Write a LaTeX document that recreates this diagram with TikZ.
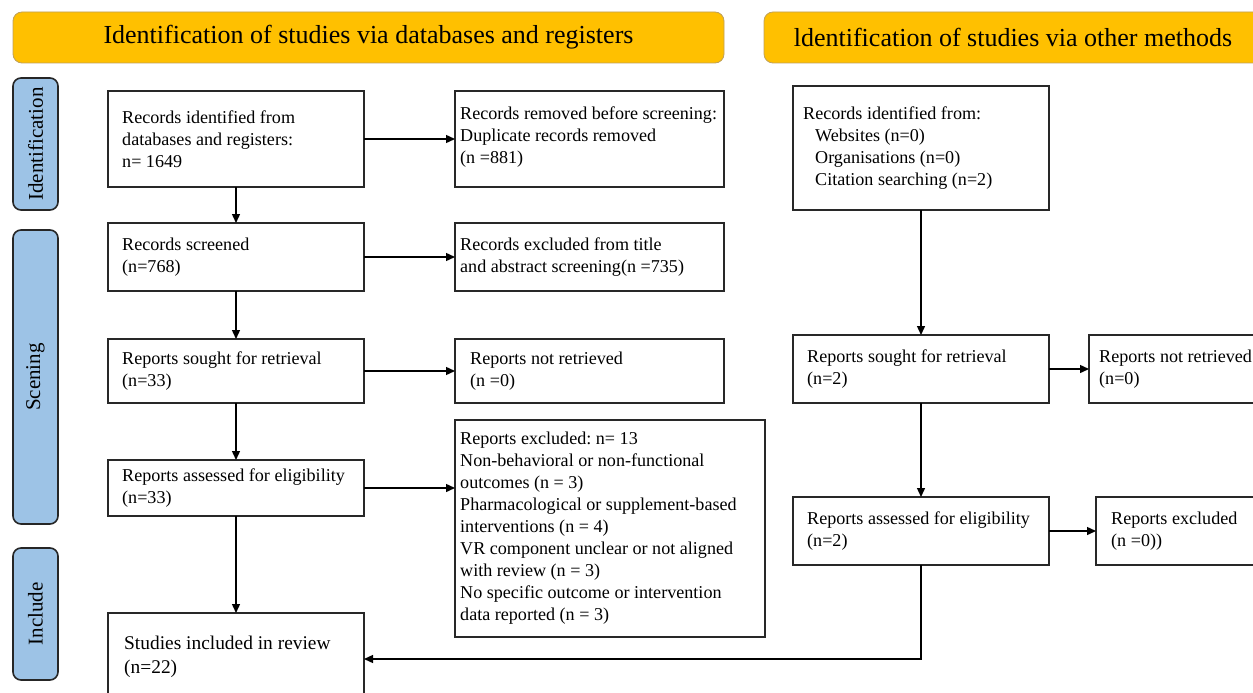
\documentclass[tikz,border=0pt]{standalone}
\usepackage{fontspec}
\setmainfont{Liberation Serif}
\usetikzlibrary{arrows.meta}
\definecolor{hdr}{RGB}{255,192,0}
\definecolor{hdrline}{RGB}{190,160,90}
\definecolor{side}{RGB}{157,195,230}
\definecolor{boxline}{RGB}{40,40,40}
\frenchspacing
\begin{document}
\begin{tikzpicture}[x=1pt,y=-1pt,
  frame/.style={draw=boxline, line width=1.3pt, fill=white, anchor=north west,
    inner sep=0pt, outer sep=0pt},
  txt/.style={anchor=west, align=left, inner sep=0pt,
    font=\fontsize{18.1}{22}\selectfont},
  hdrbox/.style={draw=hdrline, line width=0.8pt, fill=hdr, rounded corners=9pt,
    font=\fontsize{26}{30}\selectfont, inner sep=0pt},
  sidebox/.style={draw=black!85, line width=1.6pt, fill=side, rounded corners=8pt,
    font=\fontsize{21}{24}\selectfont, inner sep=0pt, rotate=90},
  arr/.style={draw=black, line width=1.4pt, -{Triangle[length=9pt,width=8pt]}}]
\useasboundingbox (0,0) rectangle (1253,693);
\clip (0,0) rectangle (1253,693);

% headers
\node[hdrbox, minimum width=711pt, minimum height=51pt] (h1) at (368.5,37.5) {Identification of studies via databases and registers};
\node[hdrbox, minimum width=498pt, minimum height=51pt] (h2) at (1013,37.5) {ldentification of studies via other methods};

% side labels
\node[sidebox, minimum width=132pt, minimum height=45pt] (s1) at (35.5,144) {Identification};
\node[sidebox, minimum width=294pt, minimum height=45pt] (s2) at (35.5,377) {Scening};
\node[sidebox, minimum width=132pt, minimum height=45pt] (s3) at (35.5,614) {Include};

% frames
\node[frame, minimum width=256pt, minimum height=96pt] (A) at (108,91) {};
\node[frame, minimum width=256pt, minimum height=68pt] (B) at (108,223) {};
\node[frame, minimum width=256pt, minimum height=64pt] (C) at (108,339) {};
\node[frame, minimum width=256pt, minimum height=56pt] (D) at (108,460) {};
\node[frame, minimum width=256pt, minimum height=88pt] (E) at (108,613) {};
\node[frame, minimum width=269pt, minimum height=96pt] (F) at (455,91) {};
\node[frame, minimum width=269pt, minimum height=68pt] (G) at (455,223) {};
\node[frame, minimum width=269pt, minimum height=64pt] (H) at (455,339) {};
\node[frame, minimum width=310pt, minimum height=217pt] (I) at (455,420) {};
\node[frame, minimum width=256pt, minimum height=124pt] (J) at (793,86) {};
\node[frame, minimum width=256pt, minimum height=68pt] (K) at (793,335) {};
\node[frame, minimum width=256pt, minimum height=68pt] (M) at (793,497) {};
\node[frame, minimum width=180pt, minimum height=68pt] (L) at (1089,335) {};
\node[frame, minimum width=170pt, minimum height=68pt] (N) at (1096,497) {};

% texts
\node[txt] (At) at ([xshift=14pt]A.west) {Records identified from\\databases and registers:\\n= 1649};
\node[txt] (Bt) at ([xshift=14pt]B.west) {Records screened\\(n=768)};
\node[txt] (Ct) at ([xshift=14pt]C.west) {Reports sought for retrieval\\(n=33)};
\node[txt] (Dt) at ([xshift=14pt]D.west) {Reports assessed for eligibility\\(n=33)};
\node[txt, font=\fontsize{19.4}{24}\selectfont] (Et) at ([xshift=16pt]E.west) {Studies included in review\\(n=22)};
\node[txt] (Ft) at ([xshift=5pt,yshift=2pt]F.west) {Records removed before screening:\\Duplicate records removed\\(n =881)};
\node[txt] (Gt) at ([xshift=5pt]G.west) {Records excluded from title\\and abstract screening(n =735)};
\node[txt] (Ht) at ([xshift=15pt]H.west) {Reports not retrieved\\(n =0)};
\node[txt] (It) at ([xshift=5pt]I.west) {Reports excluded: n= 13\\Non-behavioral or non-functional\\outcomes (n = 3)\\Pharmacological or supplement-based\\interventions (n = 4)\\VR component unclear or not aligned\\with review (n = 3)\\No specific outcome or intervention\\data reported (n = 3)};
\node[txt] (Jt) at ([xshift=10pt]J.west) {Records identified from:\\\hspace*{12pt}Websites (n=0)\\\hspace*{12pt}Organisations (n=0)\\\hspace*{12pt}Citation searching (n=2)};
\node[txt] (Kt) at ([xshift=14pt]K.west) {Reports sought for retrieval\\(n=2)};
\node[txt] (Mt) at ([xshift=14pt]M.west) {Reports assessed for eligibility\\(n=2)};
\node[txt] (Lt) at ([xshift=10pt]L.west) {Reports not retrieved\\(n=0)};
\node[txt] (Nt) at ([xshift=15pt]N.west) {Reports excluded\\(n =0))};

% connectors
\draw[arr] (A.south) -- (B.north);
\draw[arr] (B.south) -- (C.north);
\draw[arr] (C.south) -- (D.north);
\draw[arr] (D.south) -- (E.north);
\draw[arr] (A.east) -- (F.west);
\draw[arr] (B.east) -- (G.west);
\draw[arr] (C.east) -- (H.west);
\draw[arr] (D.east) -- (D.east -| I.west);
\draw[arr] (J.south) -- (K.north);
\draw[arr] (K.south) -- (M.north);
\draw[arr] (K.east) -- (L.west);
\draw[arr] (M.east) -- (N.west);
\draw[arr] (M.south) |- ([yshift=-2pt]E.east);
\end{tikzpicture}
\end{document}
